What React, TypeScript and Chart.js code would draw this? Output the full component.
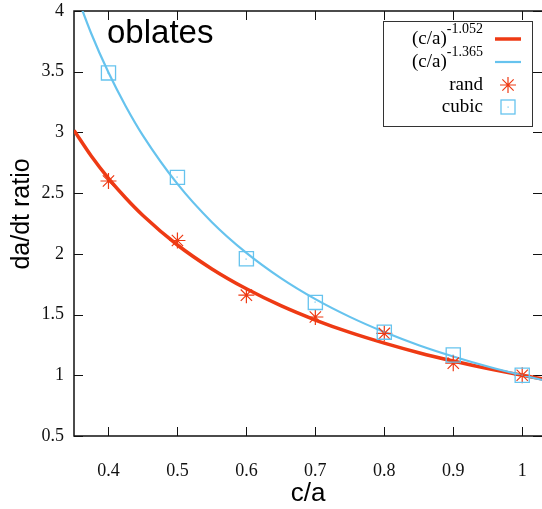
import React, { useEffect, useRef } from 'react';
import { Chart, registerables } from 'chart.js';

Chart.register(...registerables);

// Fit curves, sampled along c/a
const fitX = [0.35, 0.375, 0.4, 0.425, 0.45, 0.5, 0.55, 0.6, 0.65, 0.7, 0.75, 0.8, 0.85, 0.9, 0.95, 1.0, 1.03];
const fitRand = [3.017, 2.806, 2.622, 2.46, 2.316, 2.073, 1.876, 1.712, 1.573, 1.455, 1.353, 1.265, 1.186, 1.117, 1.055, 1.0, 0.969];
const fitCubic = [4.191, 3.815, 3.493, 3.216, 2.974, 2.576, 2.261, 2.008, 1.8, 1.627, 1.481, 1.356, 1.248, 1.155, 1.0725, 1.0, 0.9605];

// Measured points
const caValues = [0.4, 0.5, 0.6, 0.7, 0.8, 0.9, 1.0];
const randValues = [2.6, 2.11, 1.66, 1.48, 1.345, 1.1, 1.0];
const cubicValues = [3.49, 2.63, 1.96, 1.6, 1.355, 1.167, 1.0];

const xTicks = [0.4, 0.5, 0.6, 0.7, 0.8, 0.9, 1];
const yTicks = [0.5, 1, 1.5, 2, 2.5, 3, 3.5, 4];

const legendLabels = ['(c/a)', '(c/a)', 'rand', 'cubic'];
const legendExponents = ['-1.052', '-1.365', '', ''];
const panelLabel = 'oblates';
const xTitle = 'c/a';
const yTitle = 'da/dt ratio';

const RED = '#ee3a14';
const BLUE = '#66c3ee';
const SERIF = '"Liberation Serif", "Times New Roman", serif';
const SANS = '"Liberation Sans", Arial, sans-serif';

const decor = {
  id: 'decor',
  beforeDatasetsDraw(chart: any) {
    const { ctx, chartArea: a, scales } = chart;
    ctx.save();
    ctx.strokeStyle = '#111';
    ctx.lineWidth = 1.5;
    ctx.beginPath();
    ctx.moveTo(a.right + 2, a.top);
    ctx.lineTo(a.left, a.top);
    ctx.lineTo(a.left, a.bottom);
    ctx.lineTo(a.right + 2, a.bottom);
    ctx.stroke();
    ctx.lineWidth = 1;
    const tl = 9;
    ctx.beginPath();
    for (const v of xTicks) {
      const px = Math.round(scales.x.getPixelForValue(v)) + 0.5;
      ctx.moveTo(px, a.bottom);
      ctx.lineTo(px, a.bottom - tl);
      ctx.moveTo(px, a.top);
      ctx.lineTo(px, a.top + tl);
    }
    for (const v of yTicks) {
      const py = Math.round(scales.y.getPixelForValue(v)) + 0.5;
      ctx.moveTo(a.left, py);
      ctx.lineTo(a.left + tl, py);
      ctx.moveTo(a.right, py);
      ctx.lineTo(a.right - tl, py);
    }
    ctx.stroke();
    ctx.restore();
  },
  afterDatasetsDraw(chart: any) {
    const { ctx, chartArea: a } = chart;
    ctx.save();
    // centre dots of cubic squares
    const meta = chart.getDatasetMeta(3);
    ctx.fillStyle = BLUE;
    for (const el of meta.data) {
      ctx.fillRect(Math.round(el.x) - 0.5, Math.round(el.y) - 0.5, 1.2, 1.2);
    }
    // axis titles
    ctx.fillStyle = '#000';
    ctx.font = `26px ${SANS}`;
    ctx.textAlign = 'center';
    ctx.textBaseline = 'alphabetic';
    ctx.fillText(xTitle, (a.left + a.right) / 2, 501);
    ctx.save();
    ctx.translate(29, 214);
    ctx.rotate(-Math.PI / 2);
    ctx.font = `25px ${SANS}`;
    ctx.fillText(yTitle, 0, 0);
    ctx.restore();

    // panel label
    ctx.font = `33px ${SANS}`;
    ctx.textAlign = 'left';
    ctx.fillText(panelLabel, 107, 43);

    // legend
    ctx.fillStyle = '#fff';
    ctx.fillRect(383, 21, 149, 105);
    ctx.strokeStyle = '#333';
    ctx.lineWidth = 1;
    ctx.strokeRect(383.5, 21.5, 149, 105);
    const textRight = 483;
    const keyYs = [39, 62, 85, 107];
    const sx0 = 495, sx1 = 521, sxc = 508;
    ctx.fillStyle = '#000';
    ctx.textAlign = 'right';
    for (let i = 0; i < 4; i++) {
      const y = keyYs[i];
      if (legendExponents[i]) {
        ctx.font = `14px ${SERIF}`;
        const w = ctx.measureText(legendExponents[i]).width;
        ctx.fillText(legendExponents[i], textRight, y - 6);
        ctx.font = `19px ${SERIF}`;
        ctx.fillText(legendLabels[i], textRight - w, y + 5);
      } else {
        ctx.font = `19px ${SERIF}`;
        ctx.fillText(legendLabels[i], textRight, y + 5);
      }
    }
    // samples
    ctx.strokeStyle = RED;
    ctx.lineWidth = 3.5;
    ctx.beginPath();
    ctx.moveTo(sx0, keyYs[0]);
    ctx.lineTo(sx1, keyYs[0]);
    ctx.stroke();
    ctx.strokeStyle = BLUE;
    ctx.lineWidth = 2.2;
    ctx.beginPath();
    ctx.moveTo(sx0, keyYs[1]);
    ctx.lineTo(sx1, keyYs[1]);
    ctx.stroke();
    // star
    ctx.strokeStyle = RED;
    ctx.lineWidth = 1.2;
    ctx.beginPath();
    const r = 8;
    for (let k = 0; k < 4; k++) {
      const ang = (k * Math.PI) / 4;
      ctx.moveTo(sxc - Math.cos(ang) * r, keyYs[2] - Math.sin(ang) * r);
      ctx.lineTo(sxc + Math.cos(ang) * r, keyYs[2] + Math.sin(ang) * r);
    }
    ctx.stroke();
    // square
    ctx.strokeStyle = BLUE;
    ctx.lineWidth = 1.3;
    ctx.strokeRect(sxc - 7, keyYs[3] - 7, 14, 14);
    ctx.fillStyle = BLUE;
    ctx.fillRect(sxc - 0.5, keyYs[3] - 0.5, 1.2, 1.2);
    ctx.restore();
  },
};

const zeroPad = (s: any) => {
  s.paddingLeft = 0;
  s.paddingRight = 0;
  s.paddingTop = 0;
  s.paddingBottom = 0;
};

export default function App() {
  const ref = useRef<HTMLCanvasElement>(null);
  useEffect(() => {
    if (!ref.current) return;
    const chart = new Chart(ref.current, {
      type: 'scatter',
      data: {
        datasets: [
          {
            label: '(c/a)^-1.052',
            data: fitX.map((x, i) => ({ x, y: fitRand[i] })),
            showLine: true,
            borderColor: RED,
            borderWidth: 3.5,
            pointRadius: 0,
            cubicInterpolationMode: 'monotone',
            order: 3,
          },
          {
            label: '(c/a)^-1.365',
            data: fitX.map((x, i) => ({ x, y: fitCubic[i] })),
            showLine: true,
            borderColor: BLUE,
            borderWidth: 2.2,
            pointRadius: 0,
            cubicInterpolationMode: 'monotone',
            order: 2,
          },
          {
            label: 'rand',
            data: caValues.map((x, i) => ({ x, y: randValues[i] })),
            showLine: false,
            pointStyle: 'star',
            pointRadius: 8,
            borderColor: RED,
            backgroundColor: RED,
            borderWidth: 1.2,
            order: 1,
          },
          {
            label: 'cubic',
            data: caValues.map((x, i) => ({ x, y: cubicValues[i] })),
            showLine: false,
            pointStyle: 'rect',
            pointRadius: 10,
            borderColor: BLUE,
            backgroundColor: 'rgba(0,0,0,0)',
            borderWidth: 1.3,
            order: 0,
          },
        ],
      },
      options: {
        responsive: false,
        animation: false,
        events: [],
        layout: { autoPadding: false, padding: { top: 11, left: 0, right: 0, bottom: 0 } },
        plugins: { legend: { display: false }, tooltip: { enabled: false } },
        scales: {
          x: {
            type: 'linear',
            min: 0.35,
            max: 1.0287,
            grid: { display: false },
            border: { display: false },
            afterBuildTicks: (s: any) => {
              s.ticks = xTicks.map((v) => ({ value: v }));
            },
            afterFit: (s: any) => {
              s.height = 73;
              zeroPad(s);
            },
            ticks: {
              color: '#111',
              font: { family: SERIF, size: 18 },
              padding: 16,
              maxRotation: 0,
              autoSkip: false,
              callback: (v: any) => String(v),
            },
          },
          y: {
            type: 'linear',
            min: 0.5,
            max: 4,
            grid: { display: false },
            border: { display: false },
            afterBuildTicks: (s: any) => {
              s.ticks = yTicks.map((v) => ({ value: v }));
            },
            afterFit: (s: any) => {
              s.width = 74;
              zeroPad(s);
            },
            ticks: {
              color: '#111',
              font: { family: SERIF, size: 18 },
              padding: 2,
              autoSkip: false,
              callback: (v: any) => String(v),
            },
          },
        },
      },
      plugins: [decor],
    } as any);
    return () => chart.destroy();
  }, []);
  return (
    <div style={{ position: 'absolute', left: 0, top: 0, width: 542, height: 509, overflow: 'hidden', background: '#fff' }}>
      <canvas ref={ref} width={542} height={509} style={{ display: 'block' }} />
    </div>
  );
}
